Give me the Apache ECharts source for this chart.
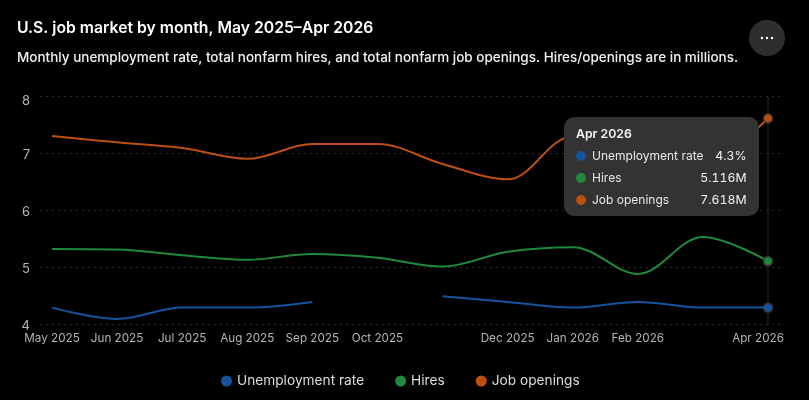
<!DOCTYPE html>
<html><head><meta charset="utf-8">
<style>html,body{margin:0;padding:0;background:#000;width:809px;height:400px;overflow:hidden}#c{width:809px;height:400px}</style>
<script src="https://cdn.jsdelivr.net/npm/echarts@6/dist/echarts.min.js"></script>
</head><body><div id="c"></div>
<script>
const months = ['May 2025','Jun 2025','Jul 2025','Aug 2025','Sep 2025','Oct 2025','Nov 2025','Dec 2025','Jan 2026','Feb 2026','Mar 2026','Apr 2026'];
const labelledMonths = [0,1,2,3,4,5,7,8,9,11];
const unemployment = [4.3,4.1,4.3,4.3,4.4,null,4.5,4.4,4.3,4.4,4.3,4.3];
const hires = [5.33,5.32,5.22,5.14,5.24,5.175,5.02,5.28,5.36,4.89,5.54,5.116];
const openings = [7.31,7.2,7.1,6.91,7.17,7.17,6.82,6.55,7.3,7.2,6.9,7.618];
const names = ['Unemployment rate','Hires','Job openings'];
const colors = ['#15539e','#1f8a3c','#bd4f12'];
const yTicks = [4,5,6,7,8];
const tipValues = ['4.3%','5.116M','7.618M'];
const FONT = 'Inter';
const last = months.length - 1;
function mk(arr, i){
  return {
    name: names[i], type:'line', smooth:0.35, symbol:'none', connectNulls:false, z:5,
    lineStyle:{color:colors[i],width:2}, itemStyle:{color:colors[i]}, emphasis:{disabled:true},
    data: arr.map((v,k)=> k===last
      ? {value:[k,v],symbol:'circle',symbolSize:8,itemStyle:{color:colors[i],borderColor:'rgba(60,60,60,0.7)',borderWidth:2}}
      : [k,v])
  };
}
const chart = echarts.init(document.getElementById('c'),null,{renderer:'canvas'});
chart.setOption({
  backgroundColor:'#000', animation:false, textStyle:{fontFamily:FONT},
  title:[
    {text:'U.S. job market by month, May 2025–Apr 2026',left:17,top:20,padding:0,textStyle:{color:'#fff',fontSize:15.75,fontWeight:600,fontFamily:FONT}},
    {text:'Monthly unemployment rate, total nonfarm hires, and total nonfarm job openings. Hires/openings are in millions.',left:17,top:51,padding:0,textStyle:{color:'#f2f2f2',fontSize:13.5,fontWeight:500,fontFamily:FONT}}
  ],
  grid:{left:40,right:29,top:96.7,bottom:75.3,containLabel:false},
  xAxis:{type:'value',min:-0.184,max:11.184,
    axisLine:{show:false},axisTick:{show:false},splitLine:{show:false},
    axisLabel:{customValues:labelledMonths,margin:8,color:'#b4b4b4',fontSize:11.7,fontFamily:FONT,showMinLabel:true,showMaxLabel:true,hideOverlap:false,
      formatter:v=> v===last ? '{e|'+months[v]+'}' : months[v],
      rich:{e:{color:'#b4b4b4',fontSize:11.7,fontFamily:FONT,padding:[0,20,0,0]}}}
  },
  yAxis:{type:'value',min:4,max:8,interval:1,
    axisLine:{show:false},axisTick:{show:false},
    splitLine:{show:true,lineStyle:{color:'#2a2a2a',type:[2,4],width:1}},
    axisLabel:{margin:10,color:'#b4b4b4',fontSize:13,fontFamily:FONT,verticalAlign:'middle',lineHeight:16,
      formatter:v=> v===yTicks[yTicks.length-1] ? '{t|'+v+'}' : '{n|'+v+'}',
      rich:{t:{color:'#b4b4b4',fontSize:13,fontFamily:FONT,padding:[8,0,0,0]},n:{color:'#b4b4b4',fontSize:13,fontFamily:FONT,padding:[2,0,0,0]}}}
  },
  legend:{data:names,bottom:7,left:216,icon:'circle',itemWidth:11,itemHeight:11,itemGap:31,
    textStyle:{color:'#dcdcdc',fontSize:13.7,fontFamily:FONT,padding:[0,0,0,0]}},
  tooltip:{trigger:'axis',alwaysShowContent:true,transitionDuration:0,showDelay:0,hideDelay:0,
    axisPointer:{type:'line',snap:true,z:1,label:{show:false},lineStyle:{color:'#161616',width:2,type:'solid'}},
    backgroundColor:'#333333',borderWidth:0,padding:0,extraCssText:'box-shadow:none;border-radius:10px;',
    position:()=>[564,117],
    formatter:()=>{
      const rows = names.map((n,i)=>`<div style="display:flex;align-items:center;height:22px;">
        <span style="width:10px;height:10px;border-radius:50%;background:${colors[i]};margin-right:6px"></span>
        <span style="flex:1;color:#e8e8e8;font-size:12px">${n}</span><span style="color:#f2f2f2;font-variant-numeric:tabular-nums">${tipValues[i]}</span></div>`).join('');
      return `<div style="box-sizing:border-box;width:195px;height:99px;padding:7px 12.5px 0 12px;font:12.3px ${FONT};line-height:16px">
        <div style="font-weight:600;color:#f5f5f5;height:21px;line-height:19px">${months[last]}</div>${rows}</div>`;
    }
  },
  graphic:[
    {type:'circle',shape:{cx:767,cy:38,r:18},style:{fill:'#2e2e2e'},silent:true},
    {type:'circle',shape:{cx:762,cy:38,r:1.2},style:{fill:'#fff'},silent:true},
    {type:'circle',shape:{cx:767,cy:38,r:1.2},style:{fill:'#fff'},silent:true},
    {type:'circle',shape:{cx:772,cy:38,r:1.2},style:{fill:'#fff'},silent:true}
  ],
  series:[mk(unemployment,0),mk(hires,1),mk(openings,2)]
});
chart.dispatchAction({type:'showTip',seriesIndex:0,dataIndex:last});
</script></body></html>
